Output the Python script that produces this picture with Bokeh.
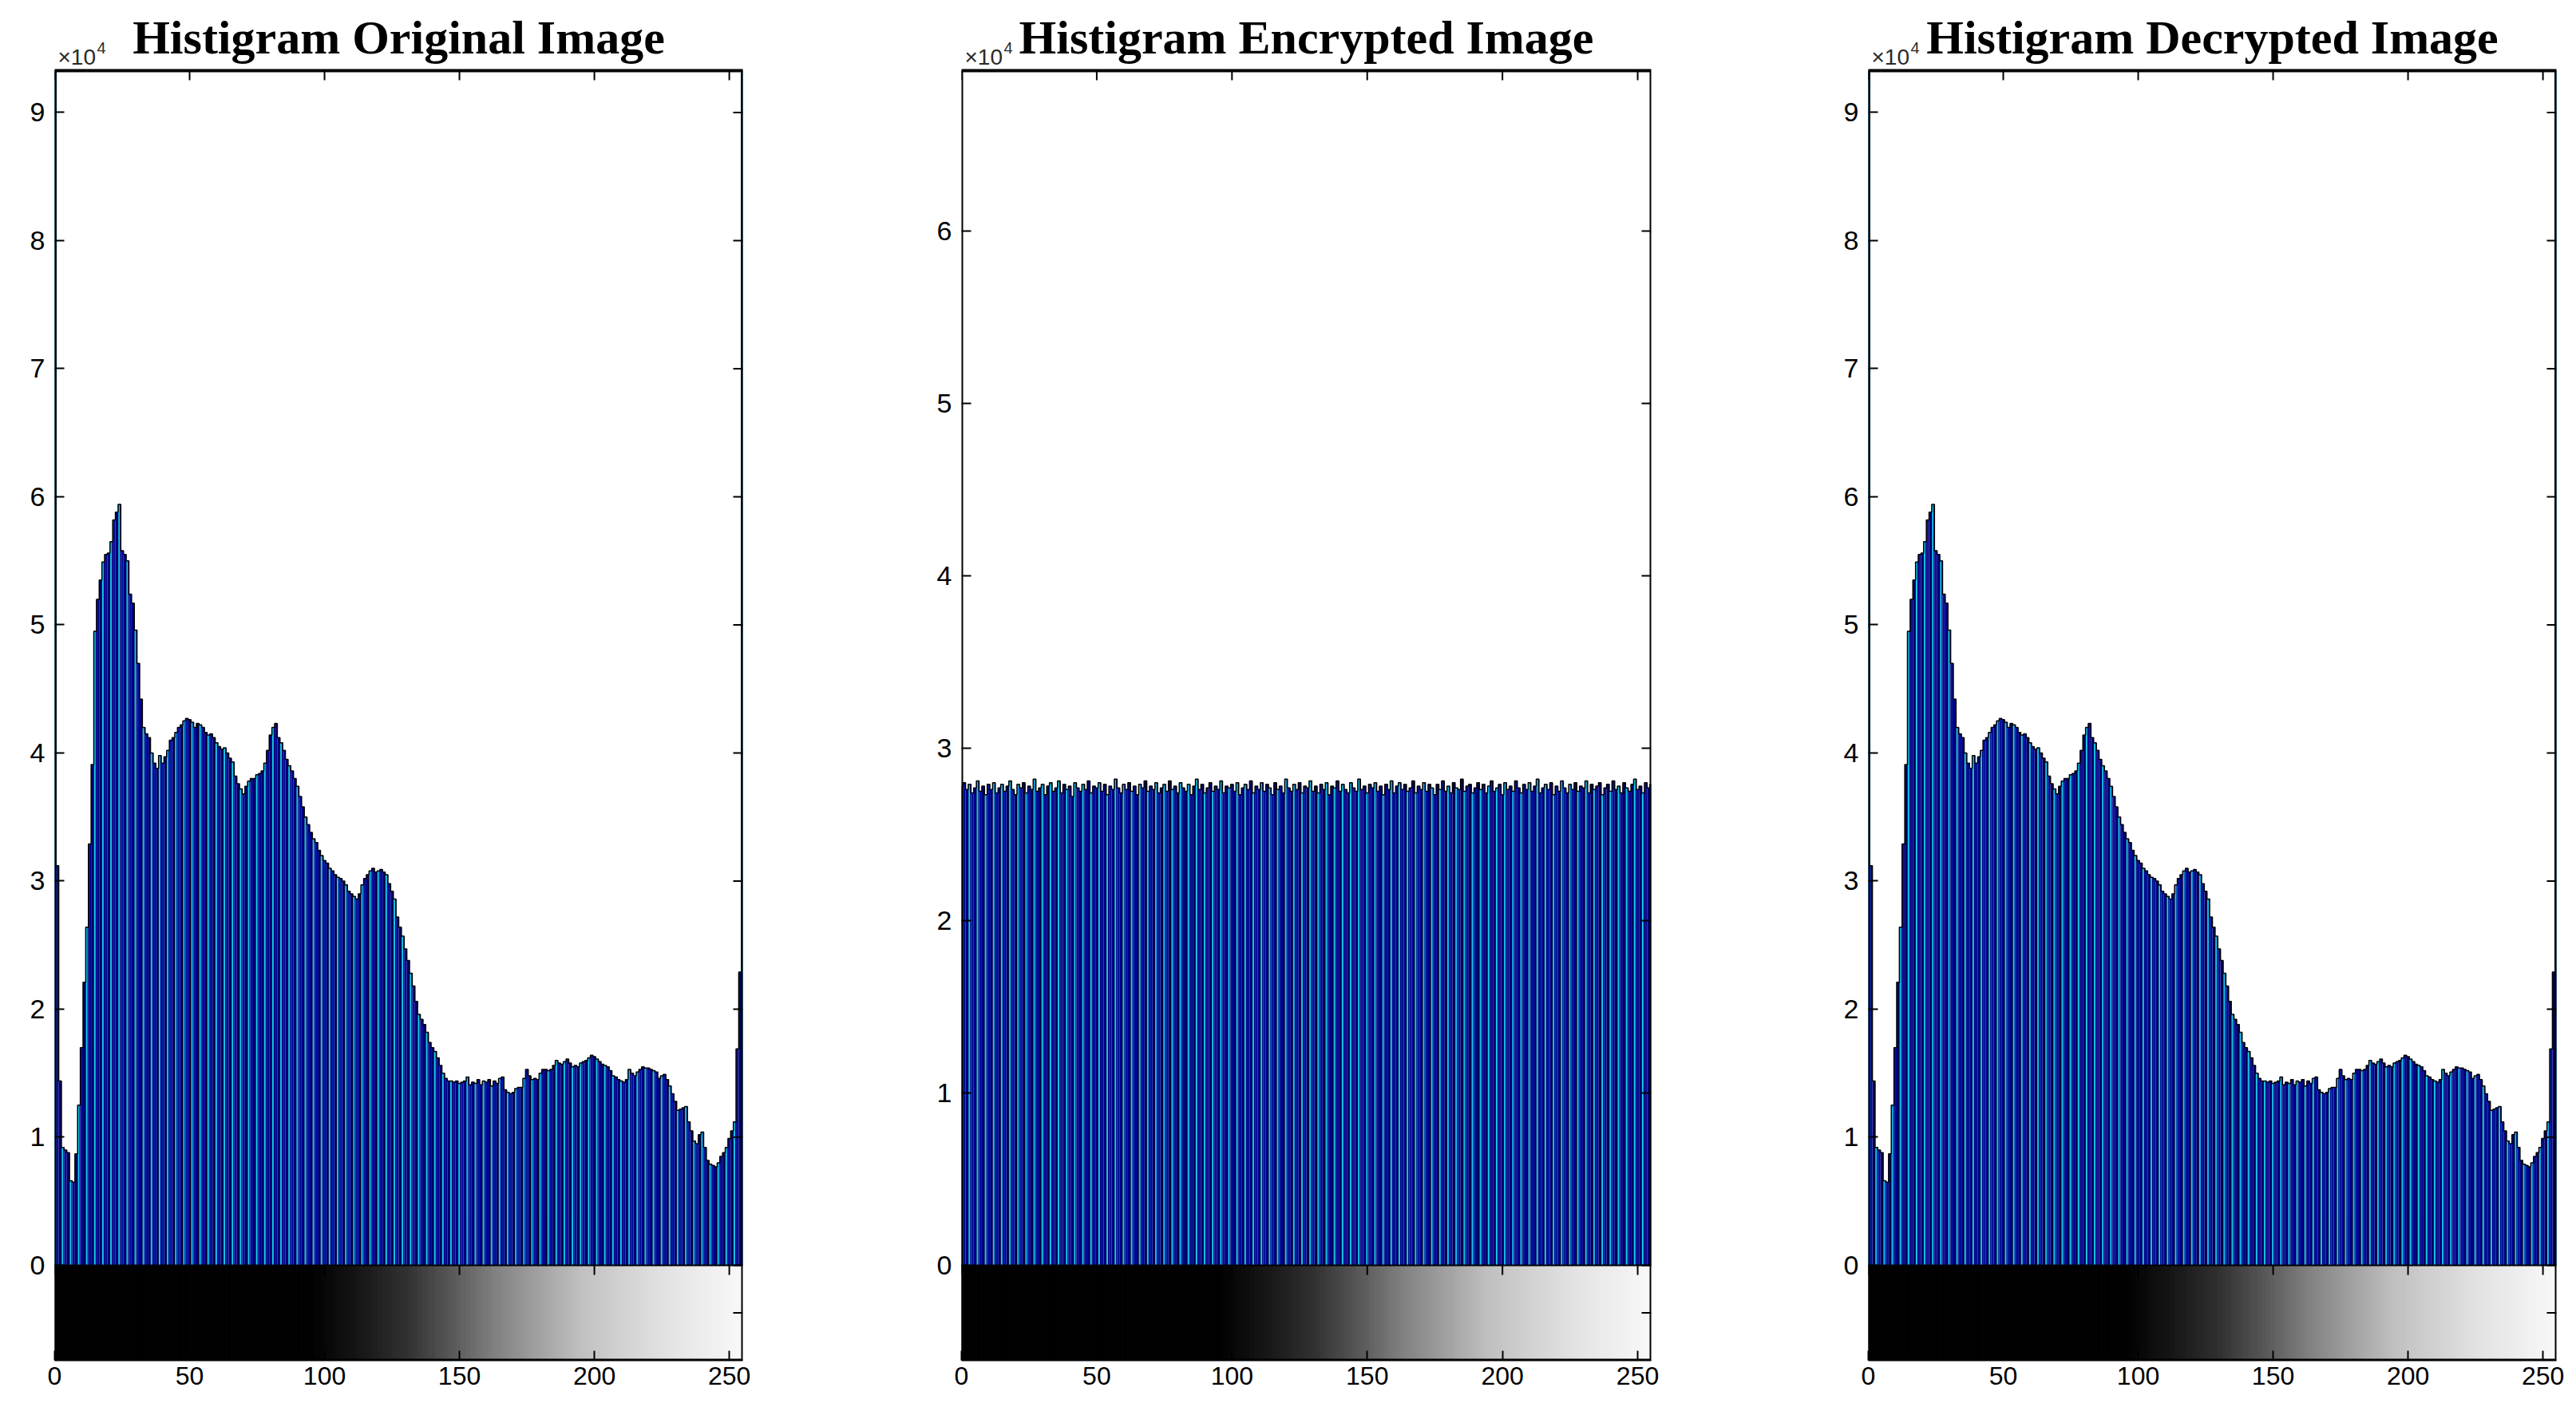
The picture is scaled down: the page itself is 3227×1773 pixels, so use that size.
import numpy as np
from bokeh.plotting import figure
from bokeh.models import Range1d, FixedTicker
from bokeh.layouts import row
from bokeh.embed import file_html
from bokeh.resources import INLINE
from bokeh.core.properties import value

# ---------------- data (counts in units of 1e4) ----------------
bins = list(range(256))
x_ticks = [0, 50, 100, 150, 200, 250]
titles = ["Histigram Original Image", "Histigram Encrypted Image", "Histigram Decrypted Image"]

original_e4 = [
    9.60, 3.12, 1.44, 0.92, 0.90, 0.88, 0.66, 0.65, 0.87, 1.25, 1.70, 2.21, 2.64, 3.29, 3.91, 4.95,
    5.20, 5.35, 5.49, 5.55, 5.56, 5.65, 5.82, 5.88, 5.94, 5.58, 5.55, 5.50, 5.24, 5.17, 4.96, 4.70,
    4.42, 4.20, 4.15, 4.12, 4.00, 3.92, 3.88, 3.98, 3.92, 3.97, 4.02, 4.10, 4.12, 4.16, 4.20, 4.22,
    4.25, 4.27, 4.26, 4.24, 4.20, 4.23, 4.22, 4.20, 4.16, 4.14, 4.15, 4.12, 4.08, 4.05, 4.03, 4.04,
    4.00, 3.96, 3.93, 3.82, 3.76, 3.72, 3.68, 3.74, 3.78, 3.80, 3.80, 3.83, 3.84, 3.86, 3.92, 4.02,
    4.14, 4.20, 4.23, 4.12, 4.08, 4.02, 3.95, 3.90, 3.86, 3.80, 3.74, 3.66, 3.58, 3.50, 3.44, 3.38,
    3.33, 3.30, 3.24, 3.20, 3.16, 3.14, 3.10, 3.08, 3.05, 3.03, 3.02, 3.00, 2.97, 2.92, 2.90, 2.88,
    2.86, 2.90, 2.97, 3.02, 3.05, 3.08, 3.10, 3.07, 3.08, 3.09, 3.07, 3.05, 2.98, 2.92, 2.86, 2.72,
    2.64, 2.57, 2.47, 2.38, 2.28, 2.18, 2.06, 1.96, 1.92, 1.88, 1.82, 1.74, 1.70, 1.67, 1.62, 1.56,
    1.50, 1.46, 1.44, 1.44, 1.43, 1.44, 1.42, 1.43, 1.44, 1.47, 1.41, 1.43, 1.42, 1.45, 1.41, 1.44,
    1.43, 1.45, 1.40, 1.44, 1.42, 1.46, 1.47, 1.37, 1.35, 1.34, 1.35, 1.38, 1.39, 1.39, 1.46, 1.53,
    1.48, 1.45, 1.46, 1.45, 1.50, 1.53, 1.53, 1.52, 1.53, 1.56, 1.60, 1.58, 1.57, 1.59, 1.61, 1.58,
    1.55, 1.56, 1.55, 1.58, 1.59, 1.60, 1.62, 1.64, 1.63, 1.61, 1.59, 1.57, 1.56, 1.55, 1.52, 1.48,
    1.47, 1.45, 1.44, 1.43, 1.45, 1.53, 1.50, 1.48, 1.51, 1.53, 1.55, 1.54, 1.54, 1.53, 1.52, 1.51,
    1.46, 1.48, 1.49, 1.45, 1.40, 1.34, 1.28, 1.21, 1.22, 1.23, 1.24, 1.12, 1.05, 0.97, 0.95, 1.02,
    1.04, 0.92, 0.82, 0.79, 0.78, 0.77, 0.80, 0.85, 0.88, 0.92, 0.99, 1.05, 1.12, 1.69, 2.29, 9.50,
]

encrypted_e4 = [
    2.78, 2.80, 2.76, 2.79, 2.74, 2.77, 2.81, 2.75, 2.78, 2.73, 2.79, 2.76, 2.80, 2.74, 2.77, 2.79,
    2.75, 2.78, 2.81, 2.76, 2.73, 2.79, 2.77, 2.80, 2.74, 2.78, 2.76, 2.82, 2.75, 2.77, 2.79, 2.73,
    2.78, 2.80, 2.75, 2.77, 2.81, 2.74, 2.79, 2.76, 2.78, 2.72, 2.80, 2.77, 2.75, 2.79, 2.76, 2.81,
    2.74, 2.78, 2.77, 2.80, 2.75, 2.79, 2.73, 2.78, 2.76, 2.82, 2.77, 2.74, 2.79, 2.76, 2.80, 2.75,
    2.78, 2.73, 2.79, 2.77, 2.81, 2.75, 2.78, 2.76, 2.80, 2.74, 2.77, 2.79, 2.75, 2.81, 2.76, 2.78,
    2.74, 2.80, 2.77, 2.75, 2.79, 2.73, 2.78, 2.82, 2.76, 2.79, 2.74, 2.77, 2.80, 2.75, 2.78, 2.76,
    2.81, 2.74, 2.78, 2.77, 2.79, 2.75, 2.80, 2.73, 2.77, 2.79, 2.76, 2.81, 2.74, 2.78, 2.76, 2.80,
    2.75, 2.79, 2.77, 2.73, 2.80, 2.76, 2.78, 2.74, 2.82, 2.77, 2.75, 2.79, 2.76, 2.80, 2.74, 2.78,
    2.77, 2.81, 2.75, 2.78, 2.74, 2.79, 2.76, 2.80, 2.73, 2.78, 2.77, 2.81, 2.75, 2.79, 2.76, 2.74,
    2.80, 2.77, 2.75, 2.82, 2.76, 2.78, 2.74, 2.79, 2.77, 2.80, 2.75, 2.78, 2.73, 2.79, 2.76, 2.81,
    2.74, 2.78, 2.80, 2.76, 2.79, 2.75, 2.77, 2.81, 2.74, 2.78, 2.76, 2.80, 2.75, 2.79, 2.77, 2.73,
    2.79, 2.76, 2.81, 2.75, 2.78, 2.74, 2.80, 2.77, 2.76, 2.82, 2.75, 2.78, 2.79, 2.74, 2.77, 2.80,
    2.76, 2.79, 2.74, 2.78, 2.81, 2.75, 2.77, 2.79, 2.73, 2.80, 2.76, 2.78, 2.75, 2.81, 2.77, 2.74,
    2.79, 2.76, 2.80, 2.75, 2.78, 2.82, 2.74, 2.77, 2.79, 2.76, 2.80, 2.73, 2.78, 2.75, 2.81, 2.77,
    2.74, 2.79, 2.76, 2.80, 2.75, 2.78, 2.77, 2.81, 2.74, 2.79, 2.76, 2.78, 2.80, 2.73, 2.77, 2.79,
    2.75, 2.81, 2.76, 2.78, 2.74, 2.80, 2.77, 2.75, 2.79, 2.82, 2.76, 2.78, 2.74, 2.80, 2.77, 2.79,
]

# the decrypted histogram reads identical to the original one
decrypted_e4 = list(original_e4)

# ---------------- styling ----------------
NAVY = "#000086"
CYAN = "#12cdee"
MIDBLUE = "#0420a8"
DARK = "#000020"
TICK_FONT = "Liberation Sans"
TITLE_FONT = "Liberation Serif"
FRAME_TOP_PX = 88      # page y of the axes box top
FRAME_BOT_PX = 1704    # page y of the colour bar bottom
ZERO_PX = 1585         # page y of the zero line
TICK_PX = 12
# gray-bar tone curve (style of the colour bar as it appears in the picture)
TONE_X = [0, 95, 114, 130, 146, 163, 179, 195, 211, 228, 255]
TONE_G = [0, 0, 24, 48, 85, 128, 160, 192, 210, 228, 248]


def gray_hex(i):
    g = int(round(float(np.interp(i, TONE_X, TONE_G))))
    return "#%02x%02x%02x" % (g, g, g)


def make_panel(title, vals_e4, hist_top, y_max_tick, width, bl, br):
    counts = np.array(vals_e4) * 1e4
    x = np.array(bins, dtype=float)
    frame_w = width - bl - br
    px_per_unit = (ZERO_PX - FRAME_TOP_PX) / hist_top          # px per 1e4
    y_min = -(FRAME_BOT_PX - ZERO_PX) / px_per_unit
    y_max = ZERO_PX / px_per_unit
    ppy = px_per_unit / 1e4          # px per count
    ppx = frame_w / 255.0            # px per grey level
    dy_tick = TICK_PX / ppy
    dx_tick = TICK_PX / ppx

    p = figure(width=width, height=1770, title=None,
               x_range=Range1d(0, 255), y_range=Range1d(y_min * 1e4, y_max * 1e4),
               output_backend="svg", toolbar_location=None,
               min_border_left=bl, min_border_right=br,
               min_border_top=0, min_border_bottom=1770 - FRAME_BOT_PX)
    p.grid.visible = False
    p.outline_line_color = None
    p.background_fill_color = "white"
    p.border_fill_color = "white"

    top = hist_top * 1e4
    bot = y_min * 1e4

    # gray-level colour bar under the histogram
    grays = [gray_hex(i) for i in bins]
    p.quad(left=x - 0.5, right=x + 0.5, bottom=bot, top=0,
           fill_color=grays, line_color=grays, line_width=1)

    # histogram stems rendered as adjacent bars with stripe pattern
    h = np.minimum(counts, top)
    p.quad(left=x - 0.5, right=x + 0.5, bottom=0, top=h, fill_color=NAVY, line_color=None)
    idx = np.array(bins)
    m0, m1, m2 = idx % 3 == 0, idx % 3 == 1, idx % 3 == 2
    p.quad(left=x[m1] - 0.25, right=x[m1] + 0.1, bottom=0, top=h[m1],
           fill_color=MIDBLUE, line_color=None)
    p.quad(left=x[m0] - 0.4, right=x[m0] + 0.15, bottom=0, top=h[m0],
           fill_color=CYAN, line_color=None)
    p.quad(left=x[m2] + 0.15, right=x[m2] + 0.5, bottom=0, top=h[m2],
           fill_color=DARK, line_color=None)
    p.step(x=x, y=h, mode="center", line_color="black", line_width=1.5)

    # axes boxes: histogram box and colour bar box
    p.quad(left=[0], right=[255], bottom=[bot], top=[top], fill_color=None,
           line_color="black", line_width=4)
    p.segment(x0=[0], x1=[255], y0=[0], y1=[0], line_color="black", line_width=2)

    yt = [k * 1e4 for k in range(0, y_max_tick + 1)]
    n = len(x_ticks)
    p.segment(x0=x_ticks, x1=x_ticks, y0=[top] * n, y1=[top - dy_tick] * n,
              line_color="black", line_width=2)
    p.segment(x0=x_ticks, x1=x_ticks, y0=[0] * n, y1=[-dy_tick] * n,
              line_color="black", line_width=2)
    p.segment(x0=[255] * len(yt), x1=[255 - dx_tick] * len(yt), y0=yt, y1=yt,
              line_color="black", line_width=2)
    p.segment(x0=[255], x1=[255 - dx_tick], y0=[bot / 2], y1=[bot / 2],
              line_color="black", line_width=2)

    ya = p.yaxis[0]
    ya.ticker = FixedTicker(ticks=yt)
    ya.major_label_overrides = {k * 1e4: str(k) for k in range(0, y_max_tick + 1)}
    ya.major_tick_in = TICK_PX
    ya.major_tick_out = 0
    ya.minor_tick_in = 0
    ya.minor_tick_out = 0
    ya.axis_line_color = None
    ya.major_tick_line_width = 2
    ya.major_label_standoff = 12
    ya.major_label_text_font = TICK_FONT
    ya.major_label_text_font_size = "34px"
    ya.major_label_text_color = "black"

    xa = p.xaxis[0]
    xa.ticker = FixedTicker(ticks=x_ticks)
    xa.major_tick_in = TICK_PX
    xa.major_tick_out = 0
    xa.minor_tick_in = 0
    xa.minor_tick_out = 0
    xa.axis_line_width = 2
    xa.major_tick_line_width = 2
    xa.major_label_standoff = 8
    xa.major_label_text_font = TICK_FONT
    xa.major_label_text_font_size = "32px"
    xa.major_label_text_color = "black"

    # title and the x10^4 exponent marker above the box (anchored at text middle)
    p.text(x=[127.5], y=[top + 42 / ppy], text=[title],
           text_align="center", text_baseline="middle",
           text_font=value(TITLE_FONT), text_font_style="bold",
           text_font_size="60px", text_color="black")
    p.text(x=[4 / ppx], y=[top + 17 / ppy], text=["\u00d710"],
           text_align="left", text_baseline="middle",
           text_font=value(TICK_FONT), text_font_size="28px", text_color="#2a2a2a")
    p.text(x=[53 / ppx], y=[top + 29 / ppy], text=["4"],
           text_align="left", text_baseline="middle",
           text_font=value(TICK_FONT), text_font_size="20px", text_color="#2a2a2a")
    return p


p1 = make_panel(titles[0], original_e4, 9.327, 9, 950, 68, 20)
p2 = make_panel(titles[1], encrypted_e4, 6.93, 6, 1138, 254, 20)
p3 = make_panel(titles[2], decrypted_e4, 9.327, 9, 1134, 252, 20)

layout = row(p1, p2, p3)
open("out.html", "w").write(file_html(layout, INLINE))
